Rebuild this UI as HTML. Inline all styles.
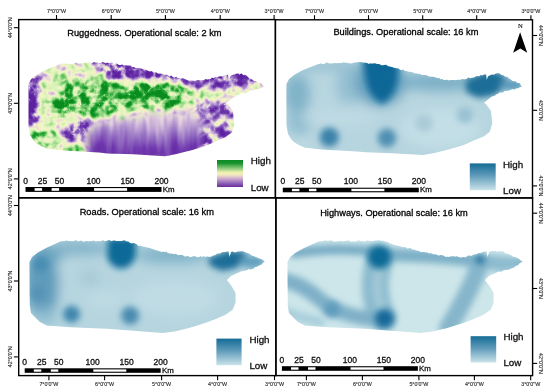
<!DOCTYPE html><html><head><meta charset="utf-8"><style>html,body{margin:0;padding:0;background:#fff;width:550px;height:392px;overflow:hidden}svg{display:block;filter:blur(0.3px)}</style></head><body>
<svg width="550" height="392" viewBox="0 0 550 392">
<defs>
<linearGradient id="gRug" x1="0" y1="0" x2="0" y2="1"><stop offset="0" stop-color="#0b8a25"/><stop offset="0.12" stop-color="#1a922e"/><stop offset="0.3" stop-color="#86c878"/><stop offset="0.46" stop-color="#eef0b0"/><stop offset="0.55" stop-color="#f2e8c0"/><stop offset="0.68" stop-color="#d2aed0"/><stop offset="0.85" stop-color="#9068b8"/><stop offset="1" stop-color="#6a2a9a"/></linearGradient>
<linearGradient id="gBlue" x1="0" y1="0" x2="0" y2="1"><stop offset="0" stop-color="#146c96"/><stop offset="0.45" stop-color="#5e9aba"/><stop offset="1" stop-color="#cae3ea"/></linearGradient>
<filter id="b4" x="-50%" y="-50%" width="200%" height="200%"><feGaussianBlur stdDeviation="4"/></filter>
<filter id="b6" x="-50%" y="-50%" width="200%" height="200%"><feGaussianBlur stdDeviation="6"/></filter>
<filter id="b3" x="-50%" y="-50%" width="200%" height="200%"><feGaussianBlur stdDeviation="3"/></filter>
<filter id="gs" x="0" y="0" width="550" height="392" filterUnits="userSpaceOnUse" color-interpolation-filters="sRGB"><feColorMatrix type="saturate" values="0"/></filter>
</defs>
<rect width="550" height="392" fill="#fff"/>
<clipPath id="k1"><path d="M28.5 84.3 L31.1 79.1 L36.5 74.9 L44.7 70.4 L52.9 67.1 L59.3 64.4 L62.9 63.6 L64.6 63.7 L66.4 63.8 L68.1 63.9 L69.8 64.0 L71.6 63.7 L73.3 63.9 L75.1 62.6 L76.8 63.1 L78.5 63.7 L80.3 63.3 L82.0 63.0 L83.7 63.5 L85.4 62.4 L87.1 62.9 L88.8 62.5 L90.5 62.9 L92.2 62.9 L93.8 62.1 L95.5 62.4 L97.2 62.4 L98.9 63.3 L100.6 63.0 L102.3 62.1 L104.0 62.6 L105.7 63.2 L107.3 62.5 L109.0 63.3 L110.7 62.8 L112.3 62.8 L114.0 64.2 L115.7 63.5 L117.3 63.7 L119.0 65.0 L120.7 65.0 L122.3 64.4 L124.0 65.5 L125.7 65.1 L127.3 65.5 L129.0 65.4 L130.6 65.5 L132.2 67.0 L133.9 67.1 L135.5 68.0 L137.1 68.3 L138.8 68.0 L140.4 68.5 L142.0 68.7 L143.6 69.2 L145.2 69.5 L146.9 70.3 L148.5 71.1 L150.1 71.6 L151.8 71.1 L153.4 72.4 L155.0 72.3 L156.6 72.6 L158.2 73.7 L159.9 73.6 L161.5 73.7 L163.1 74.3 L164.8 75.0 L166.4 74.5 L168.0 75.4 L169.6 76.5 L171.2 75.6 L172.9 77.0 L174.5 77.5 L176.1 76.8 L177.8 78.2 L179.4 78.0 L181.0 78.7 L182.6 78.3 L184.2 78.8 L185.9 79.4 L187.5 80.2 L189.1 80.8 L190.7 79.8 L192.3 80.6 L193.9 80.8 L195.6 80.8 L197.2 80.0 L198.8 80.0 L200.4 80.2 L202.0 80.2 L203.7 80.2 L205.4 78.9 L207.1 79.5 L208.8 79.2 L210.5 78.9 L212.2 77.4 L213.9 78.3 L215.6 76.8 L217.3 77.0 L219.1 76.4 L220.9 76.3 L222.7 76.4 L224.4 75.2 L226.2 75.6 L228.0 74.6 L228.3 76.6 L228.5 78.1 L228.8 80.2 L229.7 77.9 L230.5 76.2 L232.2 74.9 L234.0 74.6 L235.9 73.8 L237.9 73.6 L239.9 74.1 L241.8 73.6 L243.4 75.2 L244.9 74.8 L246.4 75.5 L248.0 77.0 L249.5 78.6 L251.0 79.0 L252.5 79.8 L254.0 80.9 L255.8 81.1 L257.5 82.2 L259.2 83.1 L261.0 83.2 L262.0 84.5 L263.0 85.7 L264.0 87.1 L262.0 87.2 L260.0 88.6 L258.2 89.6 L256.5 88.7 L254.8 89.8 L253.0 90.6 L251.2 90.0 L249.5 90.9 L247.9 91.8 L246.3 92.6 L244.8 92.7 L243.2 93.4 L241.6 93.0 L240.0 94.1 L238.5 94.7 L237.0 95.1 L235.6 96.9 L234.1 96.9 L232.6 97.9 L225.7 103.4 L227.5 104.1 L233.0 111.6 L234.3 124.3 L231.8 132.6 L226.0 137.1 L217.3 140.7 L205.6 145.9 L191.1 150.3 L176.5 154.0 L164.9 156.2 L133.6 154.3 L108.0 153.4 L99.0 152.5 L63.0 150.6 L46.8 148.4 L41.0 146.0 L35.9 142.9 L33.3 140.1 L30.0 134.9 L28.5 125.7 Z"/></clipPath>
<clipPath id="k2"><path d="M286.5 84.0 L289.1 78.9 L294.5 74.8 L302.7 70.3 L310.9 67.1 L317.3 64.4 L320.9 63.6 L322.6 64.2 L324.4 64.1 L326.1 62.8 L327.8 62.8 L329.6 63.8 L331.3 63.6 L333.1 63.5 L334.8 62.9 L336.5 63.3 L338.3 63.2 L340.0 63.0 L341.7 63.1 L343.4 62.5 L345.1 62.8 L346.8 62.7 L348.5 63.2 L350.2 63.5 L351.8 63.4 L353.5 62.8 L355.2 62.6 L356.9 62.4 L358.6 62.0 L360.3 62.0 L362.0 62.6 L363.7 62.7 L365.3 62.7 L367.0 63.0 L368.7 63.9 L370.3 63.6 L372.0 63.8 L373.7 63.5 L375.3 63.4 L377.0 64.0 L378.7 64.0 L380.3 64.7 L382.0 65.5 L383.7 65.3 L385.3 64.8 L387.0 65.4 L388.6 66.4 L390.2 66.7 L391.9 67.1 L393.5 67.8 L395.1 68.1 L396.8 68.6 L398.4 68.5 L400.0 69.8 L401.6 70.2 L403.2 69.6 L404.9 70.9 L406.5 71.0 L408.1 71.7 L409.8 71.7 L411.4 72.1 L413.0 72.4 L414.6 73.4 L416.2 73.2 L417.9 74.0 L419.5 73.7 L421.1 74.8 L422.8 75.1 L424.4 74.9 L426.0 75.3 L427.6 75.8 L429.2 76.7 L430.9 76.8 L432.5 76.8 L434.1 76.9 L435.8 77.4 L437.4 78.3 L439.0 78.0 L440.6 79.4 L442.2 78.9 L443.9 80.2 L445.5 80.0 L447.1 79.7 L448.7 80.6 L450.3 80.3 L451.9 80.0 L453.6 80.0 L455.2 80.2 L456.8 80.1 L458.4 79.7 L460.0 80.0 L461.7 79.2 L463.4 79.3 L465.1 79.5 L466.8 78.8 L468.5 77.6 L470.2 78.3 L471.9 77.8 L473.6 77.7 L475.3 76.8 L477.1 76.0 L478.9 76.4 L480.6 75.0 L482.4 75.5 L484.2 74.6 L486.0 74.5 L486.3 76.0 L486.5 78.7 L486.8 80.0 L487.6 77.4 L488.5 76.0 L490.2 75.3 L492.0 74.5 L493.9 74.7 L495.9 73.6 L497.9 73.3 L499.8 73.5 L501.4 74.9 L502.9 75.0 L504.4 76.3 L506.0 76.8 L507.5 77.1 L509.0 78.6 L510.5 79.3 L512.0 80.7 L513.8 81.5 L515.5 81.3 L517.2 83.1 L519.0 83.0 L520.0 83.6 L521.0 85.9 L522.0 86.8 L520.0 86.9 L518.0 88.3 L516.2 88.3 L514.5 89.5 L512.8 89.0 L511.0 89.4 L509.2 90.5 L507.5 90.6 L505.9 91.0 L504.3 91.0 L502.8 92.8 L501.2 92.2 L499.6 92.5 L498.0 93.7 L496.5 94.2 L495.0 95.4 L493.6 96.3 L492.1 96.2 L490.6 97.5 L483.7 102.9 L485.5 103.6 L491.0 111.0 L492.3 123.6 L489.8 131.8 L484.0 136.2 L475.3 139.8 L463.6 144.9 L449.1 149.3 L434.5 152.9 L422.9 155.1 L391.6 153.2 L366.0 152.3 L357.0 151.4 L321.0 149.6 L304.8 147.4 L299.0 145.0 L293.9 142.0 L291.3 139.2 L288.0 134.0 L286.5 125.0 Z"/></clipPath>
<clipPath id="k3"><path d="M29.5 262.0 L32.2 257.0 L37.6 252.8 L46.7 247.8 L54.0 244.6 L60.4 241.5 L64.9 241.0 L66.6 240.6 L68.2 241.1 L69.9 240.9 L71.6 241.2 L73.3 241.3 L75.0 240.5 L76.6 240.4 L78.3 241.6 L80.0 240.8 L81.7 240.8 L83.3 241.9 L85.0 241.2 L86.6 241.1 L88.3 241.6 L89.9 241.1 L91.5 241.3 L93.1 240.6 L94.8 241.2 L96.4 241.5 L98.0 241.0 L99.7 241.3 L101.3 241.1 L102.9 240.3 L104.6 241.2 L106.2 240.9 L107.8 240.5 L109.4 240.1 L111.1 241.2 L112.7 240.7 L114.5 240.6 L116.2 240.9 L118.0 241.1 L119.7 240.9 L121.5 241.1 L123.2 240.4 L125.0 240.5 L126.7 241.5 L128.3 241.6 L130.0 242.9 L131.7 243.4 L133.3 242.9 L135.0 243.5 L136.7 244.2 L138.3 245.9 L140.0 245.8 L141.6 246.1 L143.3 246.8 L144.9 246.8 L146.5 247.5 L148.2 247.7 L149.8 248.1 L151.4 248.8 L153.1 249.2 L154.7 250.1 L156.3 250.2 L158.0 250.9 L159.6 251.3 L161.2 251.9 L162.9 251.8 L164.5 252.0 L166.1 251.8 L167.8 253.1 L169.4 253.6 L171.0 253.8 L172.7 253.7 L174.3 254.2 L175.9 253.8 L177.6 255.0 L179.2 255.0 L180.8 254.9 L182.5 254.9 L184.1 256.3 L185.7 256.8 L187.4 255.9 L189.0 256.8 L190.6 257.2 L192.2 256.7 L193.9 256.3 L195.5 256.5 L197.1 257.2 L198.8 257.3 L200.4 256.2 L202.0 257.0 L203.6 256.2 L205.2 257.1 L206.9 256.6 L208.5 256.8 L210.0 256.9 L211.6 256.5 L213.1 255.4 L214.7 255.6 L216.2 254.2 L217.7 253.4 L219.3 253.7 L220.8 253.1 L222.7 252.0 L224.7 251.9 L226.6 251.8 L228.5 251.5 L228.8 253.7 L229.1 255.0 L229.4 257.5 L229.9 255.0 L230.5 254.3 L231.0 252.0 L232.7 251.6 L234.4 252.4 L236.1 252.2 L237.7 251.4 L239.4 251.4 L241.1 251.3 L242.8 251.2 L244.4 252.0 L245.9 252.5 L247.4 253.0 L249.0 253.5 L250.5 254.5 L252.0 255.8 L253.5 256.0 L255.0 256.8 L257.0 257.4 L259.0 258.6 L261.0 259.0 L262.9 260.0 L264.8 261.7 L263.2 262.5 L261.6 264.6 L260.0 265.0 L258.5 265.8 L257.0 266.7 L255.6 266.7 L254.1 268.1 L252.6 269.0 L250.7 269.5 L248.8 269.1 L246.9 270.3 L245.0 270.5 L243.2 271.2 L241.5 271.0 L239.8 272.3 L238.0 272.7 L231.0 276.0 L226.9 280.0 L231.5 286.0 L235.6 293.0 L235.6 302.5 L232.7 309.7 L225.5 314.8 L215.3 319.2 L203.6 323.5 L189.1 327.9 L174.5 331.5 L162.9 333.0 L106.8 328.7 L70.5 327.3 L46.8 325.5 L40.0 322.0 L35.9 318.0 L31.0 313.0 L29.8 305.0 Z"/></clipPath>
<clipPath id="k4"><path d="M287.5 262.0 L290.2 257.0 L295.6 252.8 L304.7 247.8 L312.0 244.6 L318.4 241.5 L322.9 241.0 L324.6 240.6 L326.2 240.5 L327.9 240.9 L329.6 240.6 L331.3 240.5 L332.9 241.0 L334.6 241.7 L336.3 241.6 L338.0 241.5 L339.6 240.8 L341.3 241.2 L343.0 241.2 L344.6 240.9 L346.3 240.7 L347.9 240.6 L349.5 240.7 L351.1 241.7 L352.8 241.5 L354.4 241.4 L356.0 241.4 L357.7 240.5 L359.3 240.6 L360.9 241.1 L362.6 241.2 L364.2 241.3 L365.8 241.3 L367.4 240.2 L369.1 240.9 L370.7 240.7 L372.5 240.9 L374.2 240.7 L376.0 240.2 L377.7 240.5 L379.5 240.0 L381.2 241.1 L383.0 240.5 L384.7 241.6 L386.3 241.7 L388.0 242.0 L389.7 243.4 L391.3 243.5 L393.0 244.6 L394.7 245.1 L396.3 245.2 L398.0 245.8 L399.6 246.1 L401.3 246.8 L402.9 246.9 L404.5 247.0 L406.2 247.6 L407.8 248.7 L409.4 248.1 L411.1 248.5 L412.7 249.7 L414.3 249.6 L416.0 250.4 L417.6 250.7 L419.2 251.0 L420.9 252.3 L422.5 252.0 L424.1 251.9 L425.8 252.5 L427.4 252.5 L429.0 253.5 L430.7 253.3 L432.3 253.7 L433.9 254.6 L435.6 254.3 L437.2 255.0 L438.8 255.8 L440.5 255.0 L442.1 255.2 L443.7 255.8 L445.4 256.9 L447.0 256.8 L448.6 257.0 L450.2 256.4 L451.9 256.6 L453.5 256.3 L455.1 256.7 L456.8 256.2 L458.4 257.1 L460.0 257.4 L461.6 257.4 L463.2 257.1 L464.9 257.4 L466.5 256.8 L468.0 255.7 L469.6 255.6 L471.1 256.1 L472.6 255.3 L474.2 254.4 L475.7 254.6 L477.3 253.7 L478.8 253.1 L480.7 253.1 L482.6 252.0 L484.6 251.5 L486.5 251.5 L486.8 253.4 L487.1 255.0 L487.4 257.5 L487.9 255.5 L488.5 254.5 L489.0 252.0 L490.7 251.6 L492.4 251.1 L494.1 251.0 L495.7 251.1 L497.4 251.8 L499.1 251.1 L500.8 251.2 L502.4 251.5 L503.9 251.8 L505.4 253.6 L507.0 253.5 L508.5 254.2 L510.0 254.7 L511.5 255.4 L513.0 256.8 L515.0 256.9 L517.0 257.8 L519.0 259.0 L520.9 260.6 L522.8 261.7 L521.2 262.3 L519.6 263.3 L518.0 265.0 L516.5 265.8 L515.0 266.2 L513.6 268.1 L512.1 267.7 L510.6 269.0 L508.7 269.4 L506.8 270.1 L504.9 270.0 L503.0 270.5 L501.2 271.7 L499.5 271.6 L497.8 271.8 L496.0 272.7 L489.0 276.0 L484.9 280.0 L489.5 286.0 L493.6 293.0 L493.6 302.5 L490.7 309.7 L483.5 314.8 L473.3 319.2 L461.6 323.5 L447.1 327.9 L432.5 331.5 L420.9 333.0 L364.8 328.7 L328.5 327.3 L304.8 325.5 L298.0 322.0 L293.9 318.0 L289.0 313.0 L287.8 305.0 Z"/></clipPath>
<filter id="rug" filterUnits="userSpaceOnUse" x="20" y="55" width="250" height="105" color-interpolation-filters="sRGB"><feGaussianBlur in="SourceGraphic" stdDeviation="4" result="bias"/><feTurbulence type="turbulence" baseFrequency="0.1" numOctaves="3" seed="7" result="noise"/><feColorMatrix in="noise" type="matrix" values="1 0 0 0 0  1 0 0 0 0  1 0 0 0 0  0 0 0 0 1" result="n1"/><feComposite in="bias" in2="n1" operator="arithmetic" k1="2.000" k2="0.600" k3="-1.000" k4="0.200" result="v0"/><feTurbulence type="fractalNoise" baseFrequency="0.11" numOctaves="2" seed="12" result="noise2"/><feColorMatrix in="noise2" type="matrix" values="1 0 0 0 0  1 0 0 0 0  1 0 0 0 0  0 0 0 0 1" result="n2"/><feComposite in="v0" in2="n2" operator="arithmetic" k1="0" k2="1" k3="0.9" k4="-0.450" result="v"/><feComponentTransfer in="v"><feFuncR type="table" tableValues="0.361 0.439 0.627 0.878 0.965 0.847 0.557 0.165 0.039"/><feFuncG type="table" tableValues="0.133 0.220 0.494 0.800 0.961 0.949 0.839 0.659 0.549"/><feFuncB type="table" tableValues="0.627 0.682 0.784 0.878 0.776 0.722 0.494 0.227 0.118"/><feFuncA type="linear" slope="0" intercept="1"/></feComponentTransfer></filter>
<filter id="rug2" filterUnits="userSpaceOnUse" x="80" y="100" width="130" height="60" color-interpolation-filters="sRGB"><feTurbulence type="fractalNoise" baseFrequency="0.14 0.025" numOctaves="2" seed="4" result="noise"/><feColorMatrix in="noise" type="matrix" values="1 0 0 0 0  1 0 0 0 0  1 0 0 0 0  0 0 0 0 1" result="n1"/><feComposite in="SourceGraphic" in2="n1" operator="arithmetic" k1="0" k2="1" k3="0.22" k4="-0.11" result="v"/><feComponentTransfer in="v"><feFuncR type="table" tableValues="0.361 0.439 0.627 0.878 0.965 0.847 0.557 0.165 0.039"/><feFuncG type="table" tableValues="0.133 0.220 0.494 0.800 0.961 0.949 0.839 0.659 0.549"/><feFuncB type="table" tableValues="0.627 0.682 0.784 0.878 0.776 0.722 0.494 0.227 0.118"/><feFuncA type="linear" slope="0" intercept="1"/></feComponentTransfer></filter>
<mask id="smask" maskUnits="userSpaceOnUse" x="60" y="100" width="170" height="70"><path d="M88 134 L96 123 L120 119 L150 114 L175 113 L195 112 L202 122 L200 160 L88 160 Z" fill="#fff" filter="url(#b3)"/></mask>
<linearGradient id="southg" x1="0" y1="0" x2="0" y2="1"><stop offset="0.25" stop-color="#646464"/><stop offset="0.5" stop-color="#484848"/><stop offset="0.8" stop-color="#242424"/><stop offset="1" stop-color="#141414"/></linearGradient>
<g clip-path="url(#k1)"><g filter="url(#rug)">
<rect x="20" y="55" width="250" height="105" fill="#878787"/>
<path d="M48 76 L100 80 L140 82 L185 84 L194 96 L182 106 L140 110 L110 114 L70 120 L48 116 L42 92 Z" fill="#bdbdbd"/>
<ellipse cx="155" cy="91" rx="25" ry="8" fill="#e0e0e0"/>
<ellipse cx="72" cy="102" rx="11" ry="12" fill="#d6d6d6"/>
<ellipse cx="100" cy="97" rx="10" ry="9" fill="#cccccc"/>
<ellipse cx="80" cy="84" rx="10" ry="6" fill="#b8b8b8"/>
<ellipse cx="122" cy="93" rx="8" ry="6" fill="#bdbdbd"/>
<ellipse cx="183" cy="89" rx="6" ry="8" fill="#e0e0e0"/>
<ellipse cx="150" cy="105" rx="10" ry="5" fill="#b2b2b2"/>
<ellipse cx="44" cy="138" rx="14" ry="10" fill="#bdbdbd"/>
<ellipse cx="73" cy="149" rx="8" ry="4" fill="#c7c7c7"/>
<ellipse cx="233" cy="95" rx="6" ry="4" fill="#c7c7c7"/>
<ellipse cx="210" cy="96" rx="14" ry="4" fill="#8f8f8f"/>
<ellipse cx="52" cy="88" rx="6" ry="7" fill="#6b6b6b"/>
<rect x="20" y="74" width="17.5" height="52" rx="4" fill="#0f0f0f"/>
<path d="M40 60 L100 58 L100 64 L45 65 Z" fill="#737373"/>
<path d="M98 58 L150 60 L148 76 L135 80 L115 80 L98 70 Z" fill="#2e2e2e"/>
<path d="M146 60 L202 70 L202 87 L185 85 L150 80 L144 76 Z" fill="#333333"/>
<path d="M198 70 L262 60 L262 80 L245 89 L200 88 Z" fill="#3d3d3d"/>
<ellipse cx="257" cy="86" rx="7" ry="4" fill="#808080"/>
<path d="M80 116 L91 123 L87 134 L70 143 L61 139 L70 128 Z" fill="#141414"/>
<path d="M190 104 L236 100 L240 150 L190 150 Z" fill="#595959"/>
<ellipse cx="214" cy="107" rx="20" ry="5" fill="#2e2e2e"/>
<ellipse cx="195" cy="140" rx="10" ry="10" fill="#1f1f1f"/>
</g>
<g mask="url(#smask)"><g filter="url(#rug2)"><rect x="80" y="100" width="130" height="60" fill="url(#southg)"/></g></g>
</g>
<g clip-path="url(#k2)"><rect x="276" y="55" width="256" height="110" fill="#b7d5df"/><g filter="url(#b6)">
<ellipse cx="297" cy="94" rx="13" ry="20" fill="#80b2c9"/>
<ellipse cx="300" cy="122" rx="12" ry="12" fill="#8dbbcf"/>
<ellipse cx="349" cy="86" rx="13" ry="18" fill="#94c0d2"/>
<ellipse cx="327" cy="92" rx="6" ry="22" fill="#b9d7e1"/>
<ellipse cx="330" cy="66" rx="40" ry="5" fill="#94bfd1"/>
<ellipse cx="440" cy="82" rx="42" ry="9" fill="#7aaec6"/>
<ellipse cx="440" cy="128" rx="40" ry="20" fill="#c3dee6"/>
<ellipse cx="340" cy="118" rx="40" ry="7" fill="#c0dbe4"/>
<ellipse cx="300" cy="145" rx="12" ry="5" fill="#c0dbe4"/>
<ellipse cx="380" cy="82" rx="26" ry="24" fill="#6aa2c0"/>
</g><g filter="url(#b3)">
<path d="M362 58 L399 58 L398 80 Q395 97 382 104 Q369 97 366 82 Z" fill="#0d6797"/>
<path d="M466 80 L490 70 L506 76 L505 88 L492 96 L478 98 L466 92 Z" fill="#1c6e98"/>
<ellipse cx="512" cy="85" rx="12" ry="5.5" fill="#5a9abb"/>
<circle cx="329.3" cy="137.1" r="9.6" fill="#3a82aa"/>
<circle cx="386.9" cy="137.9" r="9.3" fill="#4f90b3"/>
<circle cx="465" cy="115" r="8" fill="#97c1d2"/>
<circle cx="424" cy="123" r="9" fill="#aacbd8"/>
</g></g>
<g clip-path="url(#k3)"><rect x="20" y="235" width="256" height="110" fill="#b6d5df"/><g filter="url(#b6)">
<ellipse cx="42" cy="284" rx="17" ry="34" fill="#5e9bbb"/>
<ellipse cx="48" cy="253" rx="17" ry="9" fill="#65a0be"/>
<ellipse cx="80" cy="248" rx="32" ry="7" fill="#82b3c9"/>
<ellipse cx="172" cy="255" rx="38" ry="8" fill="#80b2c8"/>
<ellipse cx="64" cy="282" rx="5" ry="18" fill="#b8d7e1"/>
<ellipse cx="90" cy="278" rx="10" ry="8" fill="#a6cad8"/>
<ellipse cx="175" cy="298" rx="45" ry="18" fill="#c0dbe4"/>
<ellipse cx="105" cy="300" rx="20" ry="8" fill="#c0dbe4"/>
<ellipse cx="45" cy="316" rx="12" ry="8" fill="#8ebcd0"/>
</g><g filter="url(#b3)">
<circle cx="40.4" cy="264.3" r="8" fill="#4a8db2"/>
<circle cx="38" cy="293" r="7" fill="#5593b6"/>
<path d="M108 238 L136 238 L136 256 Q132 268 121.5 268.5 Q110 268 107 256 Z" fill="#0f6a98"/>
<path d="M208 258 L230 250 L246 252 L246 262 L236 268 L222 271 L210 266 Z" fill="#1d6d98"/>
<ellipse cx="252" cy="262" rx="13" ry="6" fill="#5f9ebe"/>
<circle cx="71.5" cy="314.3" r="8.5" fill="#3f86ad"/>
<circle cx="130.1" cy="315.6" r="9" fill="#4a8cb0"/>
</g></g>
<g clip-path="url(#k4)"><rect x="276" y="235" width="256" height="110" fill="#cde6ea"/><g filter="url(#b3)">
<path d="M294 253 Q330 247 372 251" stroke="#78acc5" stroke-width="10" fill="none" stroke-linecap="round"/>
<path d="M390 255 Q440 256 478 261 Q500 262 520 264" stroke="#7db0c7" stroke-width="13" fill="none" stroke-linecap="round"/>
<ellipse cx="503" cy="264" rx="18" ry="8" fill="#8ebccf"/>
<path d="M379 262 Q370 292 383 318" stroke="#8cbbce" stroke-width="27" fill="none" stroke-linecap="round"/>
<path d="M379 270 Q374 292 382 310" stroke="#a3c9d7" stroke-width="8" fill="none" stroke-linecap="round"/>
<path d="M280 280 Q300 282 318 298 Q340 318 384 320" stroke="#7fb0c8" stroke-width="15" fill="none" stroke-linecap="round"/>
<path d="M480 264 Q470 292 448 328" stroke="#86b6cb" stroke-width="18" fill="none" stroke-linecap="round"/>
<path d="M280 310 Q300 318 320 322" stroke="#a9cfdc" stroke-width="10" fill="none" stroke-linecap="round"/>
</g><g filter="url(#b3)">
<circle cx="379.5" cy="256.8" r="12" fill="#0f6a98"/>
<circle cx="384.4" cy="318.5" r="9.5" fill="#12699a"/>
<circle cx="331.8" cy="309.5" r="8" fill="#5e9cbd"/>
<circle cx="480" cy="259.6" r="5" fill="#2a78a2"/>
</g></g>
<rect x="217" y="160" width="26" height="27" fill="url(#gRug)"/>
<rect x="469.8" y="163.4" width="25.899999999999977" height="26.799999999999983" fill="url(#gBlue)"/>
<rect x="216.4" y="338.6" width="25.19999999999999" height="26.599999999999966" fill="url(#gBlue)"/>
<rect x="470.6" y="336.2" width="25.599999999999966" height="26.30000000000001" fill="url(#gBlue)"/>
<g filter="url(#gs)">
<rect x="18.7" y="19.6" width="256.7" height="178.20000000000002" fill="none" stroke="#000" stroke-width="1.4"/>
<rect x="275.4" y="19.8" width="257.1" height="178.1" fill="none" stroke="#000" stroke-width="1.4"/>
<rect x="18.7" y="197.8" width="257.2" height="177.8" fill="none" stroke="#000" stroke-width="1.4"/>
<rect x="275.9" y="197.9" width="256.70000000000005" height="177.70000000000002" fill="none" stroke="#000" stroke-width="1.4"/>
<line x1="56.5" y1="19.6" x2="56.5" y2="15.000000000000002" stroke="#000" stroke-width="1.1"/>
<text x="56.5" y="12.700000000000001" font-size="5.35" text-anchor="middle" fill="#333" stroke="#333" stroke-width="0.15" font-family='"Liberation Sans", sans-serif' >7°0'0&quot;W</text>
<line x1="111.2" y1="19.6" x2="111.2" y2="15.000000000000002" stroke="#000" stroke-width="1.1"/>
<text x="111.2" y="12.700000000000001" font-size="5.35" text-anchor="middle" fill="#333" stroke="#333" stroke-width="0.15" font-family='"Liberation Sans", sans-serif' >6°0'0&quot;W</text>
<line x1="165.4" y1="19.6" x2="165.4" y2="15.000000000000002" stroke="#000" stroke-width="1.1"/>
<text x="165.4" y="12.700000000000001" font-size="5.35" text-anchor="middle" fill="#333" stroke="#333" stroke-width="0.15" font-family='"Liberation Sans", sans-serif' >5°0'0&quot;W</text>
<line x1="220.2" y1="19.6" x2="220.2" y2="15.000000000000002" stroke="#000" stroke-width="1.1"/>
<text x="220.2" y="12.700000000000001" font-size="5.35" text-anchor="middle" fill="#333" stroke="#333" stroke-width="0.15" font-family='"Liberation Sans", sans-serif' >4°0'0&quot;W</text>
<line x1="274.1" y1="19.6" x2="274.1" y2="15.000000000000002" stroke="#000" stroke-width="1.1"/>
<text x="274.1" y="12.700000000000001" font-size="5.35" text-anchor="middle" fill="#333" stroke="#333" stroke-width="0.15" font-family='"Liberation Sans", sans-serif' >3°0'0&quot;W</text>
<line x1="314.5" y1="19.8" x2="314.5" y2="15.200000000000001" stroke="#000" stroke-width="1.1"/>
<text x="314.5" y="12.9" font-size="5.35" text-anchor="middle" fill="#333" stroke="#333" stroke-width="0.15" font-family='"Liberation Sans", sans-serif' >7°0'0&quot;W</text>
<line x1="368.5" y1="19.8" x2="368.5" y2="15.200000000000001" stroke="#000" stroke-width="1.1"/>
<text x="368.5" y="12.9" font-size="5.35" text-anchor="middle" fill="#333" stroke="#333" stroke-width="0.15" font-family='"Liberation Sans", sans-serif' >6°0'0&quot;W</text>
<line x1="422.7" y1="19.8" x2="422.7" y2="15.200000000000001" stroke="#000" stroke-width="1.1"/>
<text x="422.7" y="12.9" font-size="5.35" text-anchor="middle" fill="#333" stroke="#333" stroke-width="0.15" font-family='"Liberation Sans", sans-serif' >5°0'0&quot;W</text>
<line x1="476.7" y1="19.8" x2="476.7" y2="15.200000000000001" stroke="#000" stroke-width="1.1"/>
<text x="476.7" y="12.9" font-size="5.35" text-anchor="middle" fill="#333" stroke="#333" stroke-width="0.15" font-family='"Liberation Sans", sans-serif' >4°0'0&quot;W</text>
<line x1="530.9" y1="19.8" x2="530.9" y2="15.200000000000001" stroke="#000" stroke-width="1.1"/>
<text x="530.9" y="12.9" font-size="5.35" text-anchor="middle" fill="#333" stroke="#333" stroke-width="0.15" font-family='"Liberation Sans", sans-serif' >3°0'0&quot;W</text>
<line x1="48.9" y1="375.6" x2="48.9" y2="380.20000000000005" stroke="#000" stroke-width="1.1"/>
<text x="48.9" y="386.20000000000005" font-size="5.35" text-anchor="middle" fill="#333" stroke="#333" stroke-width="0.15" font-family='"Liberation Sans", sans-serif' >7°0'0&quot;W</text>
<line x1="104.6" y1="375.6" x2="104.6" y2="380.20000000000005" stroke="#000" stroke-width="1.1"/>
<text x="104.6" y="386.20000000000005" font-size="5.35" text-anchor="middle" fill="#333" stroke="#333" stroke-width="0.15" font-family='"Liberation Sans", sans-serif' >6°0'0&quot;W</text>
<line x1="161.6" y1="375.6" x2="161.6" y2="380.20000000000005" stroke="#000" stroke-width="1.1"/>
<text x="161.6" y="386.20000000000005" font-size="5.35" text-anchor="middle" fill="#333" stroke="#333" stroke-width="0.15" font-family='"Liberation Sans", sans-serif' >5°0'0&quot;W</text>
<line x1="217.6" y1="375.6" x2="217.6" y2="380.20000000000005" stroke="#000" stroke-width="1.1"/>
<text x="217.6" y="386.20000000000005" font-size="5.35" text-anchor="middle" fill="#333" stroke="#333" stroke-width="0.15" font-family='"Liberation Sans", sans-serif' >4°0'0&quot;W</text>
<line x1="274.5" y1="375.6" x2="274.5" y2="380.20000000000005" stroke="#000" stroke-width="1.1"/>
<text x="274.5" y="386.20000000000005" font-size="5.35" text-anchor="middle" fill="#333" stroke="#333" stroke-width="0.15" font-family='"Liberation Sans", sans-serif' >3°0'0&quot;W</text>
<line x1="306.4" y1="375.6" x2="306.4" y2="380.20000000000005" stroke="#000" stroke-width="1.1"/>
<text x="306.4" y="386.20000000000005" font-size="5.35" text-anchor="middle" fill="#333" stroke="#333" stroke-width="0.15" font-family='"Liberation Sans", sans-serif' >7°0'0&quot;W</text>
<line x1="362.4" y1="375.6" x2="362.4" y2="380.20000000000005" stroke="#000" stroke-width="1.1"/>
<text x="362.4" y="386.20000000000005" font-size="5.35" text-anchor="middle" fill="#333" stroke="#333" stroke-width="0.15" font-family='"Liberation Sans", sans-serif' >6°0'0&quot;W</text>
<line x1="418.9" y1="375.6" x2="418.9" y2="380.20000000000005" stroke="#000" stroke-width="1.1"/>
<text x="418.9" y="386.20000000000005" font-size="5.35" text-anchor="middle" fill="#333" stroke="#333" stroke-width="0.15" font-family='"Liberation Sans", sans-serif' >5°0'0&quot;W</text>
<line x1="474.4" y1="375.6" x2="474.4" y2="380.20000000000005" stroke="#000" stroke-width="1.1"/>
<text x="474.4" y="386.20000000000005" font-size="5.35" text-anchor="middle" fill="#333" stroke="#333" stroke-width="0.15" font-family='"Liberation Sans", sans-serif' >4°0'0&quot;W</text>
<line x1="530.7" y1="375.6" x2="530.7" y2="380.20000000000005" stroke="#000" stroke-width="1.1"/>
<text x="530.7" y="386.20000000000005" font-size="5.35" text-anchor="middle" fill="#333" stroke="#333" stroke-width="0.15" font-family='"Liberation Sans", sans-serif' >3°0'0&quot;W</text>
<line x1="18.7" y1="27.7" x2="13.899999999999999" y2="27.7" stroke="#000" stroke-width="1.1"/>
<g transform="translate(12.1,27.7) rotate(-90)">
<text x="0" y="0" font-size="5.35" text-anchor="middle" fill="#333" stroke="#333" stroke-width="0.15" font-family='"Liberation Sans", sans-serif' >44°0'0&quot;N</text>
</g>
<line x1="18.7" y1="103.3" x2="13.899999999999999" y2="103.3" stroke="#000" stroke-width="1.1"/>
<g transform="translate(12.1,103.3) rotate(-90)">
<text x="0" y="0" font-size="5.35" text-anchor="middle" fill="#333" stroke="#333" stroke-width="0.15" font-family='"Liberation Sans", sans-serif' >43°0'0&quot;N</text>
</g>
<line x1="18.7" y1="178.9" x2="13.899999999999999" y2="178.9" stroke="#000" stroke-width="1.1"/>
<g transform="translate(12.1,178.9) rotate(-90)">
<text x="0" y="0" font-size="5.35" text-anchor="middle" fill="#333" stroke="#333" stroke-width="0.15" font-family='"Liberation Sans", sans-serif' >42°0'0&quot;N</text>
</g>
<line x1="18.7" y1="205.5" x2="13.899999999999999" y2="205.5" stroke="#000" stroke-width="1.1"/>
<g transform="translate(12.1,205.5) rotate(-90)">
<text x="0" y="0" font-size="5.35" text-anchor="middle" fill="#333" stroke="#333" stroke-width="0.15" font-family='"Liberation Sans", sans-serif' >44°0'0&quot;N</text>
</g>
<line x1="18.7" y1="281" x2="13.899999999999999" y2="281" stroke="#000" stroke-width="1.1"/>
<g transform="translate(12.1,281) rotate(-90)">
<text x="0" y="0" font-size="5.35" text-anchor="middle" fill="#333" stroke="#333" stroke-width="0.15" font-family='"Liberation Sans", sans-serif' >43°0'0&quot;N</text>
</g>
<line x1="18.7" y1="356.9" x2="13.899999999999999" y2="356.9" stroke="#000" stroke-width="1.1"/>
<g transform="translate(12.1,356.9) rotate(-90)">
<text x="0" y="0" font-size="5.35" text-anchor="middle" fill="#333" stroke="#333" stroke-width="0.15" font-family='"Liberation Sans", sans-serif' >42°0'0&quot;N</text>
</g>
<line x1="532.5" y1="35.5" x2="537.1" y2="35.5" stroke="#000" stroke-width="1.1"/>
<g transform="translate(539.1,35.5) rotate(90)">
<text x="0" y="0" font-size="5.35" text-anchor="middle" fill="#333" stroke="#333" stroke-width="0.15" font-family='"Liberation Sans", sans-serif' >44°0'0&quot;N</text>
</g>
<line x1="532.5" y1="110.3" x2="537.1" y2="110.3" stroke="#000" stroke-width="1.1"/>
<g transform="translate(539.1,110.3) rotate(90)">
<text x="0" y="0" font-size="5.35" text-anchor="middle" fill="#333" stroke="#333" stroke-width="0.15" font-family='"Liberation Sans", sans-serif' >43°0'0&quot;N</text>
</g>
<line x1="532.5" y1="185.9" x2="537.1" y2="185.9" stroke="#000" stroke-width="1.1"/>
<g transform="translate(539.1,185.9) rotate(90)">
<text x="0" y="0" font-size="5.35" text-anchor="middle" fill="#333" stroke="#333" stroke-width="0.15" font-family='"Liberation Sans", sans-serif' >42°0'0&quot;N</text>
</g>
<line x1="532.6" y1="213.2" x2="537.2" y2="213.2" stroke="#000" stroke-width="1.1"/>
<g transform="translate(539.2,213.2) rotate(90)">
<text x="0" y="0" font-size="5.35" text-anchor="middle" fill="#333" stroke="#333" stroke-width="0.15" font-family='"Liberation Sans", sans-serif' >44°0'0&quot;N</text>
</g>
<line x1="532.6" y1="288.5" x2="537.2" y2="288.5" stroke="#000" stroke-width="1.1"/>
<g transform="translate(539.2,288.5) rotate(90)">
<text x="0" y="0" font-size="5.35" text-anchor="middle" fill="#333" stroke="#333" stroke-width="0.15" font-family='"Liberation Sans", sans-serif' >43°0'0&quot;N</text>
</g>
<line x1="532.6" y1="363.4" x2="537.2" y2="363.4" stroke="#000" stroke-width="1.1"/>
<g transform="translate(539.2,363.4) rotate(90)">
<text x="0" y="0" font-size="5.35" text-anchor="middle" fill="#333" stroke="#333" stroke-width="0.15" font-family='"Liberation Sans", sans-serif' >42°0'0&quot;N</text>
</g>
<text x="67.3" y="35.5" font-size="9.25" text-anchor="start" fill="#000" stroke="#000" stroke-width="0.3" font-family='"Liberation Sans", sans-serif' >Ruggedness. Operational scale: 2 km</text>
<text x="333.4" y="35.0" font-size="9.25" text-anchor="start" fill="#000" stroke="#000" stroke-width="0.3" font-family='"Liberation Sans", sans-serif' >Buildings. Operational scale: 16 km</text>
<text x="79.7" y="215.0" font-size="9.25" text-anchor="start" fill="#000" stroke="#000" stroke-width="0.3" font-family='"Liberation Sans", sans-serif' >Roads. Operational scale: 16 km</text>
<text x="320.2" y="215.8" font-size="9.25" text-anchor="start" fill="#000" stroke="#000" stroke-width="0.3" font-family='"Liberation Sans", sans-serif' >Highways. Operational scale: 16 km</text>
<rect x="25.5" y="187.0" width="136" height="4.900000000000006" fill="#000"/>
<rect x="34.6" y="188.1" width="7.5" height="2.7000000000000055" fill="#fff"/>
<rect x="51.6" y="188.1" width="7.5" height="2.7000000000000055" fill="#fff"/>
<rect x="94.1" y="188.1" width="33.0" height="2.7000000000000055" fill="#fff"/>
<text x="25.5" y="183.7" font-size="8.5" text-anchor="middle" fill="#111" stroke="#111" stroke-width="0.3" font-family='"Liberation Sans", sans-serif' >0</text>
<text x="42.5" y="183.7" font-size="8.5" text-anchor="middle" fill="#111" stroke="#111" stroke-width="0.3" font-family='"Liberation Sans", sans-serif' >25</text>
<text x="59.5" y="183.7" font-size="8.5" text-anchor="middle" fill="#111" stroke="#111" stroke-width="0.3" font-family='"Liberation Sans", sans-serif' >50</text>
<text x="93.5" y="183.7" font-size="8.5" text-anchor="middle" fill="#111" stroke="#111" stroke-width="0.3" font-family='"Liberation Sans", sans-serif' >100</text>
<text x="127.50000000000001" y="183.7" font-size="8.5" text-anchor="middle" fill="#111" stroke="#111" stroke-width="0.3" font-family='"Liberation Sans", sans-serif' >150</text>
<text x="161.5" y="183.7" font-size="8.5" text-anchor="middle" fill="#111" stroke="#111" stroke-width="0.3" font-family='"Liberation Sans", sans-serif' >200</text>
<text x="162.7" y="191.9" font-size="7.9" text-anchor="start" fill="#111" stroke="#111" stroke-width="0.3" font-family='"Liberation Sans", sans-serif' >Km</text>
<rect x="282.8" y="187.7" width="136" height="4.600000000000023" fill="#000"/>
<rect x="291.90000000000003" y="188.79999999999998" width="7.5" height="2.4000000000000226" fill="#fff"/>
<rect x="308.90000000000003" y="188.79999999999998" width="7.5" height="2.4000000000000226" fill="#fff"/>
<rect x="351.40000000000003" y="188.79999999999998" width="33.0" height="2.4000000000000226" fill="#fff"/>
<text x="282.8" y="183.9" font-size="8.5" text-anchor="middle" fill="#111" stroke="#111" stroke-width="0.3" font-family='"Liberation Sans", sans-serif' >0</text>
<text x="299.8" y="183.9" font-size="8.5" text-anchor="middle" fill="#111" stroke="#111" stroke-width="0.3" font-family='"Liberation Sans", sans-serif' >25</text>
<text x="316.8" y="183.9" font-size="8.5" text-anchor="middle" fill="#111" stroke="#111" stroke-width="0.3" font-family='"Liberation Sans", sans-serif' >50</text>
<text x="350.8" y="183.9" font-size="8.5" text-anchor="middle" fill="#111" stroke="#111" stroke-width="0.3" font-family='"Liberation Sans", sans-serif' >100</text>
<text x="384.8" y="183.9" font-size="8.5" text-anchor="middle" fill="#111" stroke="#111" stroke-width="0.3" font-family='"Liberation Sans", sans-serif' >150</text>
<text x="418.8" y="183.9" font-size="8.5" text-anchor="middle" fill="#111" stroke="#111" stroke-width="0.3" font-family='"Liberation Sans", sans-serif' >200</text>
<text x="420.0" y="192.3" font-size="7.9" text-anchor="start" fill="#111" stroke="#111" stroke-width="0.3" font-family='"Liberation Sans", sans-serif' >Km</text>
<rect x="24.7" y="368.3" width="136" height="4.5" fill="#000"/>
<rect x="33.800000000000004" y="369.40000000000003" width="7.5" height="2.3" fill="#fff"/>
<rect x="50.800000000000004" y="369.40000000000003" width="7.5" height="2.3" fill="#fff"/>
<rect x="93.3" y="369.40000000000003" width="33.0" height="2.3" fill="#fff"/>
<text x="24.7" y="364.9" font-size="8.5" text-anchor="middle" fill="#111" stroke="#111" stroke-width="0.3" font-family='"Liberation Sans", sans-serif' >0</text>
<text x="41.7" y="364.9" font-size="8.5" text-anchor="middle" fill="#111" stroke="#111" stroke-width="0.3" font-family='"Liberation Sans", sans-serif' >25</text>
<text x="58.7" y="364.9" font-size="8.5" text-anchor="middle" fill="#111" stroke="#111" stroke-width="0.3" font-family='"Liberation Sans", sans-serif' >50</text>
<text x="92.7" y="364.9" font-size="8.5" text-anchor="middle" fill="#111" stroke="#111" stroke-width="0.3" font-family='"Liberation Sans", sans-serif' >100</text>
<text x="126.70000000000002" y="364.9" font-size="8.5" text-anchor="middle" fill="#111" stroke="#111" stroke-width="0.3" font-family='"Liberation Sans", sans-serif' >150</text>
<text x="160.7" y="364.9" font-size="8.5" text-anchor="middle" fill="#111" stroke="#111" stroke-width="0.3" font-family='"Liberation Sans", sans-serif' >200</text>
<text x="161.89999999999998" y="372.8" font-size="7.9" text-anchor="start" fill="#111" stroke="#111" stroke-width="0.3" font-family='"Liberation Sans", sans-serif' >Km</text>
<rect x="281.9" y="366.2" width="136" height="4.600000000000023" fill="#000"/>
<rect x="291.0" y="367.3" width="7.5" height="2.4000000000000226" fill="#fff"/>
<rect x="308.0" y="367.3" width="7.5" height="2.4000000000000226" fill="#fff"/>
<rect x="350.5" y="367.3" width="33.0" height="2.4000000000000226" fill="#fff"/>
<text x="281.9" y="362.7" font-size="8.5" text-anchor="middle" fill="#111" stroke="#111" stroke-width="0.3" font-family='"Liberation Sans", sans-serif' >0</text>
<text x="298.9" y="362.7" font-size="8.5" text-anchor="middle" fill="#111" stroke="#111" stroke-width="0.3" font-family='"Liberation Sans", sans-serif' >25</text>
<text x="315.9" y="362.7" font-size="8.5" text-anchor="middle" fill="#111" stroke="#111" stroke-width="0.3" font-family='"Liberation Sans", sans-serif' >50</text>
<text x="349.9" y="362.7" font-size="8.5" text-anchor="middle" fill="#111" stroke="#111" stroke-width="0.3" font-family='"Liberation Sans", sans-serif' >100</text>
<text x="383.9" y="362.7" font-size="8.5" text-anchor="middle" fill="#111" stroke="#111" stroke-width="0.3" font-family='"Liberation Sans", sans-serif' >150</text>
<text x="417.9" y="362.7" font-size="8.5" text-anchor="middle" fill="#111" stroke="#111" stroke-width="0.3" font-family='"Liberation Sans", sans-serif' >200</text>
<text x="419.09999999999997" y="370.8" font-size="7.9" text-anchor="start" fill="#111" stroke="#111" stroke-width="0.3" font-family='"Liberation Sans", sans-serif' >Km</text>
<text x="250.7" y="163.6" font-size="9.8" text-anchor="start" fill="#111" stroke="#111" stroke-width="0.3" font-family='"Liberation Sans", sans-serif' >High</text>
<text x="250.7" y="191.0" font-size="9.8" text-anchor="start" fill="#111" stroke="#111" stroke-width="0.3" font-family='"Liberation Sans", sans-serif' >Low</text>
<text x="503" y="167.5" font-size="9.8" text-anchor="start" fill="#111" stroke="#111" stroke-width="0.3" font-family='"Liberation Sans", sans-serif' >High</text>
<text x="503" y="193.7" font-size="9.8" text-anchor="start" fill="#111" stroke="#111" stroke-width="0.3" font-family='"Liberation Sans", sans-serif' >Low</text>
<text x="249.4" y="342.5" font-size="9.8" text-anchor="start" fill="#111" stroke="#111" stroke-width="0.3" font-family='"Liberation Sans", sans-serif' >High</text>
<text x="249.4" y="368.9" font-size="9.8" text-anchor="start" fill="#111" stroke="#111" stroke-width="0.3" font-family='"Liberation Sans", sans-serif' >Low</text>
<text x="503.4" y="339.7" font-size="9.8" text-anchor="start" fill="#111" stroke="#111" stroke-width="0.3" font-family='"Liberation Sans", sans-serif' >High</text>
<text x="503.4" y="366.3" font-size="9.8" text-anchor="start" fill="#111" stroke="#111" stroke-width="0.3" font-family='"Liberation Sans", sans-serif' >Low</text>
<text x="520.3" y="28.3" font-size="6.6" text-anchor="middle" fill="#111" stroke="#111" stroke-width="0.15" font-family='"Liberation Serif", serif' >N</text>
<path d="M520.1 32.3 L527.2 52.7 L520.3 48.6 L513.2 52.7 Z" fill="#000"/>
</g>
</svg></body></html>
